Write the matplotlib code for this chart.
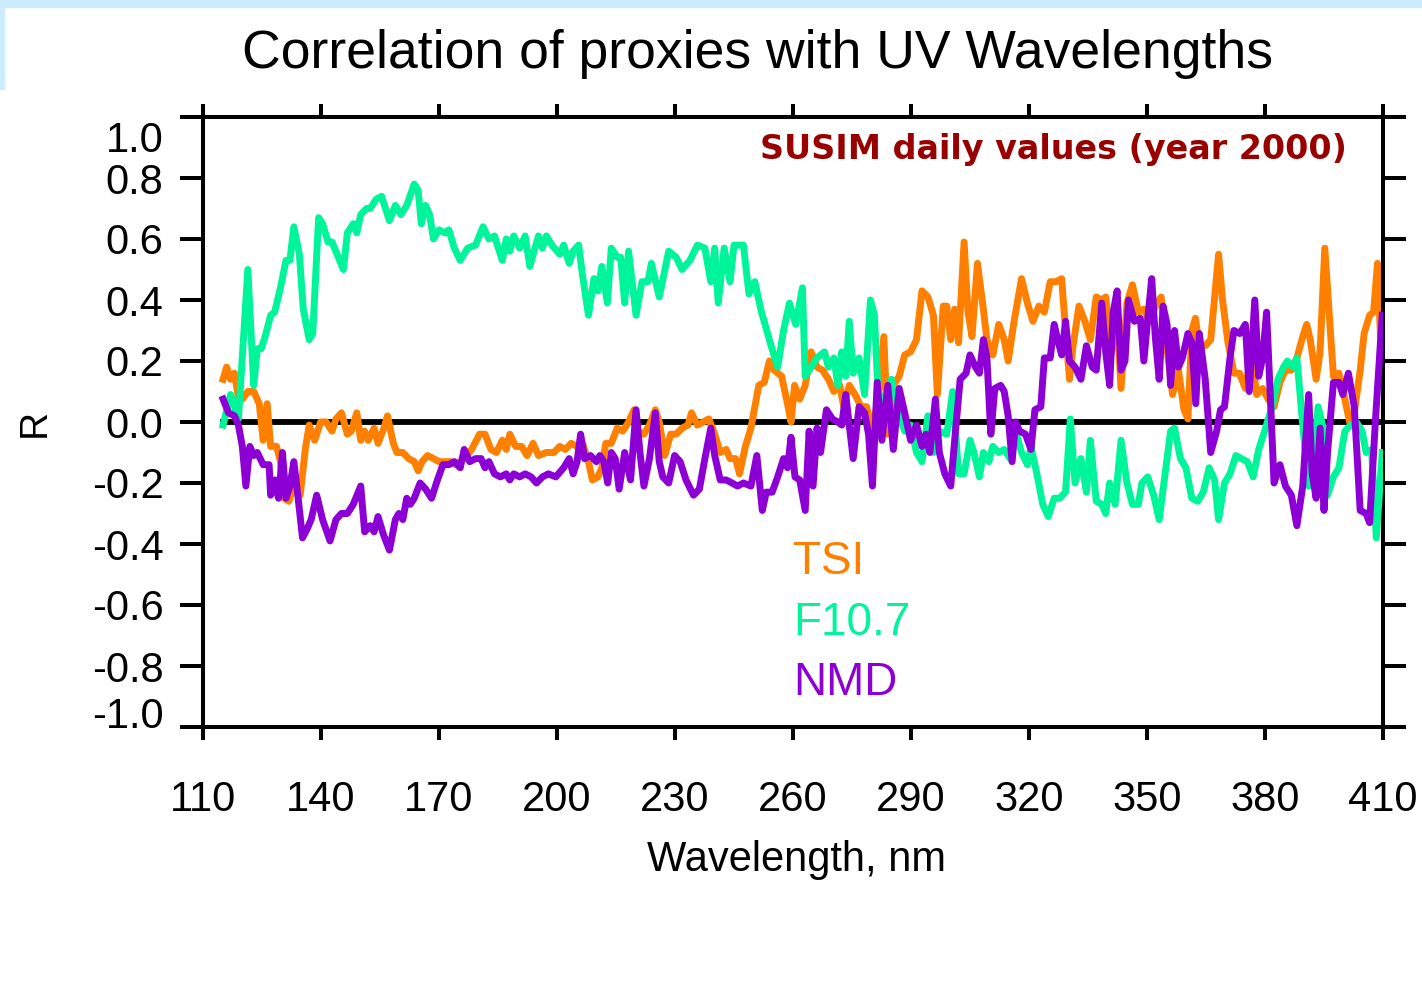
import numpy as np
import matplotlib
matplotlib.use('Agg')
import matplotlib.pyplot as plt
import matplotlib.transforms as mtransforms
from matplotlib.patches import Rectangle

plt.rcParams['font.family'] = ['Liberation Sans', 'DejaVu Sans']
plt.rcParams['axes.unicode_minus'] = False

## Data
tsi_wl = [115.1, 116.0, 117.0, 118.0, 119.0, 120.0, 121.4, 122.9, 124.3, 125.3, 126.3, 127.2, 128.7,
          129.7, 130.6, 131.8, 133.1, 134.7, 136.0, 137.0, 138.4, 139.9, 141.3, 142.8, 143.8, 145.2,
          146.7, 147.7, 149.1, 150.1, 151.1, 152.0, 153.5, 154.5, 156.0, 156.9, 158.4, 159.3, 160.8,
          162.3, 163.7, 164.7, 165.7, 167.1, 168.6, 170.0, 171.5, 173.0, 174.4, 176.4, 178.3, 180.3,
          181.7, 183.2, 184.6, 186.1, 187.1, 188.0, 189.5, 191.0, 192.4, 193.9, 195.3, 197.3, 199.2,
          200.7, 202.1, 203.6, 205.1, 206.5, 208.0, 209.0, 210.4, 211.4, 212.4, 213.8, 215.3, 216.7,
          218.2, 219.6, 220.6, 222.1, 223.5, 225.0, 226.0, 227.4, 228.9, 230.3, 231.8, 233.3, 234.2,
          235.7, 237.2, 238.6, 240.1, 241.5, 243.0, 244.0, 245.4, 246.4, 247.9, 249.3, 251.3, 252.7,
          254.0, 255.2, 257.1, 258.6, 259.5, 260.4, 261.7, 263.1, 264.6, 266.1, 267.5, 269.0, 270.4,
          271.9, 272.9, 274.3, 275.8, 277.3, 278.7, 280.2, 281.6, 283.1, 284.1, 285.5, 287.0, 288.4,
          289.9, 291.4, 292.8, 294.3, 295.7, 296.7, 298.2, 299.1, 300.1, 301.1, 302.1, 303.5, 304.5,
          305.5, 306.9, 308.4, 309.3, 310.8, 312.3, 313.7, 314.7, 316.2, 318.1, 319.6, 321.0, 322.5,
          323.9, 325.4, 326.9, 328.3, 329.3, 330.3, 331.2, 332.7, 334.2, 335.6, 337.1, 338.5, 339.5,
          341.0, 342.4, 343.4, 344.9, 346.3, 347.8, 349.2, 350.7, 352.1, 353.6, 355.1, 356.5, 358.0,
          359.4, 360.4, 361.4, 362.3, 363.3, 364.8, 366.2, 367.2, 368.2, 369.2, 370.6, 372.1, 373.5,
          375.0, 376.5, 377.9, 379.4, 380.8, 382.3, 383.8, 385.2, 386.7, 388.1, 389.6, 390.6, 391.5,
          393.0, 394.0, 395.2, 396.4, 397.4, 398.8, 400.3, 401.5, 402.7, 404.2, 405.2, 406.6, 407.6,
          408.6, 409.8]
tsi_r = [0.14, 0.18, 0.14, 0.16, 0.08, 0.075, 0.10, 0.10, 0.06, -0.06, 0.06, -0.08, -0.08,
         -0.13, -0.25, -0.26, -0.21, -0.24, -0.09, -0.01, -0.06, 0.00, 0.00, -0.03, 0.01, 0.03,
         -0.04, -0.03, 0.03, -0.06, -0.03, -0.06, -0.02, -0.07, -0.02, 0.02, -0.07, -0.10, -0.10,
         -0.12, -0.13, -0.16, -0.13, -0.11, -0.12, -0.13, -0.13, -0.13, -0.14, -0.12, -0.09, -0.04,
         -0.04, -0.09, -0.10, -0.06, -0.09, -0.04, -0.08, -0.08, -0.11, -0.07, -0.11, -0.10, -0.10,
         -0.08, -0.09, -0.07, -0.08, -0.07, -0.13, -0.19, -0.18, -0.15, -0.07, -0.07, -0.02, -0.03,
         0.00, 0.04, -0.03, -0.04, -0.01, 0.04, 0.00, -0.11, -0.04, -0.04, -0.02, -0.01, 0.03,
         -0.01, 0.00, 0.01, -0.04, -0.10, -0.09, -0.12, -0.12, -0.17, -0.08, -0.02, 0.12, 0.13,
         0.20, 0.17, 0.15, 0.06, 0.00, 0.12, 0.075, 0.12, 0.23, 0.18, 0.17, 0.14, 0.10,
         0.12, 0.05, 0.12, 0.09, 0.05, 0.05, -0.03, 0.075, 0.28, -0.04, 0.12, 0.15, 0.22,
         0.23, 0.27, 0.43, 0.41, 0.35, 0.09, 0.38, 0.38, 0.27, 0.37, 0.26, 0.59, 0.36,
         0.28, 0.52, 0.37, 0.27, 0.22, 0.32, 0.27, 0.20, 0.33, 0.47, 0.39, 0.33, 0.38,
         0.36, 0.46, 0.46, 0.47, 0.30, 0.14, 0.25, 0.38, 0.33, 0.27, 0.41, 0.40, 0.41,
         0.23, 0.34, 0.11, 0.39, 0.45, 0.36, 0.37, 0.33, 0.38, 0.41, 0.24, 0.09, 0.17,
         0.04, 0.01, 0.30, 0.34, 0.25, 0.25, 0.27, 0.41, 0.55, 0.40, 0.26, 0.16, 0.16,
         0.11, 0.22, 0.09, 0.11, 0.075, 0.05, 0.13, 0.17, 0.17, 0.21, 0.28, 0.32, 0.27,
         0.14, 0.23, 0.57, 0.34, 0.15, 0.16, 0.075, 0.00, 0.03, 0.17, 0.29, 0.35, 0.36,
         0.52, 0.14]

f107_wl = [115.1, 117.0, 119.0, 121.4, 122.9, 123.8, 124.8, 125.8, 127.2, 128.2, 129.7, 131.1, 132.1,
           133.1, 134.5, 135.5, 137.0, 137.9, 139.4, 140.4, 141.8, 142.8, 145.7, 146.7, 148.2, 149.1,
           150.1, 151.6, 152.5, 154.0, 155.4, 157.4, 158.9, 160.3, 161.8, 163.7, 164.7, 165.5, 166.6,
           167.6, 168.6, 170.0, 171.5, 172.5, 173.9, 175.4, 177.3, 179.3, 181.2, 182.7, 184.1, 186.1,
           187.1, 188.0, 189.0, 190.5, 191.9, 193.1, 194.4, 195.3, 196.3, 197.3, 198.7, 200.7, 201.7,
           203.1, 204.1, 205.5, 206.5, 208.0, 209.4, 210.4, 211.4, 212.8, 213.8, 215.3, 216.2, 217.2,
           218.2, 220.1, 221.6, 223.1, 224.0, 226.0, 228.4, 230.3, 231.8, 233.8, 235.7, 237.6, 239.1,
           240.1, 241.0, 242.5, 244.0, 245.0, 245.9, 247.4, 248.8, 250.3, 251.8, 254.2, 256.1, 257.6,
           259.1, 260.7, 262.4, 263.1, 264.1, 266.1, 268.0, 269.0, 270.4, 271.4, 272.4, 273.4, 274.3,
           275.3, 276.8, 278.2, 279.7, 280.7, 281.6, 283.6, 285.0, 287.0, 288.4, 289.9, 291.4, 292.8,
           294.3, 295.7, 297.2, 299.1, 300.6, 302.1, 303.5, 305.0, 306.0, 307.4, 308.4, 309.8, 310.8,
           312.3, 313.7, 315.2, 316.6, 318.1, 319.6, 320.5, 322.0, 323.5, 324.9, 326.4, 327.8, 329.3,
           330.5, 331.7, 333.2, 334.6, 335.6, 337.1, 338.5, 339.5, 340.5, 341.9, 343.4, 344.9, 346.3,
           347.8, 348.7, 350.2, 351.7, 353.1, 354.6, 356.0, 357.0, 358.5, 359.9, 361.4, 362.9, 364.3,
           365.8, 367.2, 368.2, 369.7, 371.1, 372.6, 374.0, 375.5, 377.0, 378.4, 379.9, 381.8, 383.3,
           384.7, 385.7, 387.2, 388.1, 389.6, 391.1, 392.0, 393.5, 395.0, 395.9, 397.4, 398.8, 400.3,
           401.8, 403.2, 404.7, 405.7, 407.1, 408.3, 409.8]
f107_r = [-0.01, 0.09, 0.01, 0.50, 0.12, 0.24, 0.24, 0.28, 0.35, 0.36, 0.44, 0.53, 0.53,
          0.64, 0.55, 0.37, 0.27, 0.29, 0.67, 0.65, 0.59, 0.59, 0.50, 0.62, 0.65, 0.62,
          0.68, 0.70, 0.70, 0.73, 0.74, 0.66, 0.71, 0.68, 0.71, 0.78, 0.76, 0.65, 0.71,
          0.68, 0.60, 0.63, 0.62, 0.63, 0.57, 0.53, 0.57, 0.58, 0.64, 0.60, 0.61, 0.53,
          0.60, 0.56, 0.61, 0.57, 0.61, 0.51, 0.57, 0.61, 0.57, 0.61, 0.58, 0.55, 0.58,
          0.52, 0.56, 0.58, 0.48, 0.35, 0.47, 0.43, 0.51, 0.39, 0.57, 0.54, 0.54, 0.39,
          0.56, 0.35, 0.46, 0.46, 0.52, 0.41, 0.56, 0.54, 0.50, 0.53, 0.58, 0.57, 0.46,
          0.57, 0.39, 0.57, 0.46, 0.58, 0.58, 0.58, 0.42, 0.46, 0.37, 0.26, 0.18, 0.30,
          0.39, 0.32, 0.44, 0.15, 0.17, 0.21, 0.23, 0.18, 0.21, 0.12, 0.23, 0.15, 0.33,
          0.16, 0.21, 0.09, 0.40, 0.35, 0.10, 0.05, 0.14, 0.02, -0.03, -0.01, -0.10, -0.13,
          0.02, -0.10, -0.03, -0.04, 0.10, -0.17, -0.17, -0.06, -0.10, -0.18, -0.10, -0.13, -0.08,
          -0.10, -0.09, -0.12, -0.03, -0.10, -0.14, -0.08, -0.17, -0.27, -0.31, -0.25, -0.25, -0.23,
          0.01, -0.20, -0.12, -0.23, -0.06, -0.26, -0.27, -0.30, -0.20, -0.27, -0.06, -0.20, -0.27,
          -0.27, -0.20, -0.18, -0.24, -0.32, -0.17, -0.03, -0.02, -0.12, -0.15, -0.25, -0.26, -0.23,
          -0.15, -0.19, -0.32, -0.20, -0.17, -0.11, -0.12, -0.13, -0.18, -0.09, -0.03, 0.05, 0.14,
          0.18, 0.20, 0.18, 0.21, -0.01, -0.21, -0.17, 0.05, -0.03, -0.24, -0.18, -0.15, -0.03,
          -0.01, 0.00, -0.03, -0.10, -0.09, -0.38, -0.10]

nmd_wl = [115.1, 116.5, 118.0, 119.0, 120.0, 120.9, 121.9, 122.9, 123.8, 125.3, 126.8, 127.2, 128.2,
          129.2, 130.2, 131.1, 132.1, 133.1, 134.1, 135.3, 136.5, 137.5, 138.9, 140.4, 142.3, 143.8,
          145.2, 146.7, 148.2, 150.1, 151.1, 152.5, 153.5, 154.5, 155.9, 157.4, 158.9, 159.8, 160.8,
          161.8, 162.7, 163.7, 165.2, 166.6, 168.1, 169.6, 171.0, 172.5, 173.9, 175.4, 176.4, 177.8,
          179.3, 180.7, 181.7, 182.7, 184.1, 185.6, 187.1, 188.0, 189.0, 190.5, 191.9, 193.4, 194.8,
          196.3, 197.8, 199.7, 201.7, 203.1, 204.1, 205.1, 206.0, 207.0, 208.5, 210.0, 210.9, 211.9,
          212.9, 213.8, 214.8, 215.8, 217.2, 218.7, 220.1, 221.1, 222.1, 223.5, 225.0, 226.0, 226.9,
          228.4, 229.9, 231.3, 232.8, 234.7, 236.2, 237.6, 239.1, 240.1, 241.5, 243.0, 244.5, 245.9,
          247.4, 249.3, 250.8, 252.2, 253.2, 254.7, 256.1, 257.6, 258.6, 259.5, 260.5, 261.7, 263.1,
          264.1, 265.1, 266.1, 267.0, 268.5, 270.0, 271.4, 272.4, 273.4, 274.3, 275.3, 276.8, 278.2,
          279.2, 280.2, 281.4, 282.6, 284.1, 285.5, 287.0, 288.4, 289.9, 291.4, 292.8, 293.8, 294.8,
          296.2, 297.2, 298.6, 300.1, 301.1, 302.5, 304.0, 305.0, 306.4, 307.4, 308.4, 309.3, 310.3,
          311.3, 312.8, 313.7, 314.7, 315.7, 316.6, 317.6, 319.1, 320.5, 321.5, 323.0, 323.9, 325.4,
          326.4, 327.3, 328.3, 329.3, 330.3, 331.7, 333.2, 334.6, 336.1, 337.1, 338.5, 339.5, 340.5,
          341.4, 342.4, 343.4, 344.4, 345.3, 346.8, 348.3, 349.2, 350.2, 351.2, 352.1, 353.1, 354.1,
          355.1, 356.0, 357.0, 358.0, 359.0, 360.4, 361.4, 362.4, 363.3, 364.8, 366.2, 367.7, 368.7,
          369.7, 371.1, 372.1, 373.6, 375.0, 376.0, 377.4, 378.4, 379.4, 380.4, 381.3, 382.3, 383.8,
          385.2, 386.7, 388.1, 389.6, 391.1, 392.0, 393.0, 394.0, 395.0, 395.9, 397.4, 398.8, 399.8,
          401.2, 402.7, 404.2, 405.7, 406.6, 408.1, 409.8]
nmd_r = [0.075, 0.03, 0.02, -0.01, -0.08, -0.21, -0.08, -0.11, -0.10, -0.14, -0.14, -0.24, -0.19,
         -0.25, -0.10, -0.25, -0.21, -0.13, -0.24, -0.38, -0.35, -0.32, -0.24, -0.32, -0.39, -0.32,
         -0.30, -0.30, -0.27, -0.21, -0.36, -0.34, -0.36, -0.31, -0.37, -0.42, -0.32, -0.30, -0.32,
         -0.25, -0.27, -0.25, -0.20, -0.22, -0.25, -0.19, -0.14, -0.14, -0.13, -0.15, -0.09, -0.13,
         -0.12, -0.12, -0.15, -0.13, -0.17, -0.18, -0.17, -0.19, -0.17, -0.18, -0.17, -0.18, -0.20,
         -0.18, -0.17, -0.18, -0.15, -0.12, -0.17, -0.13, -0.04, -0.12, -0.11, -0.13, -0.11, -0.13,
         -0.20, -0.10, -0.12, -0.22, -0.10, -0.19, 0.04, -0.10, -0.21, -0.12, 0.03, -0.13, -0.18,
         -0.20, -0.11, -0.13, -0.19, -0.24, -0.22, -0.12, -0.02, -0.11, -0.19, -0.19, -0.20, -0.21,
         -0.20, -0.21, -0.11, -0.29, -0.23, -0.23, -0.18, -0.12, -0.15, -0.05, -0.18, -0.19, -0.29,
         -0.03, -0.21, -0.02, -0.10, 0.04, 0.01, 0.00, -0.01, 0.09, -0.01, -0.12, 0.05, 0.03,
         -0.04, -0.21, 0.13, -0.06, 0.12, -0.09, 0.11, 0.03, -0.06, -0.01, -0.08, -0.04, -0.10,
         0.075, -0.10, -0.17, -0.21, -0.06, 0.14, 0.16, 0.22, 0.18, 0.16, 0.27, 0.21, -0.04,
         0.11, 0.12, 0.10, 0.02, -0.13, 0.00, -0.03, -0.04, -0.09, 0.04, 0.05, 0.21, 0.21,
         0.32, 0.27, 0.22, 0.33, 0.20, 0.18, 0.14, 0.25, 0.18, 0.17, 0.39, 0.23, 0.12,
         0.36, 0.43, 0.17, 0.20, 0.40, 0.33, 0.34, 0.20, 0.34, 0.47, 0.28, 0.14, 0.38,
         0.32, 0.12, 0.30, 0.18, 0.21, 0.29, 0.26, 0.06, 0.29, 0.14, -0.10, -0.03, 0.04,
         0.05, 0.21, 0.30, 0.29, 0.32, 0.10, 0.40, 0.15, 0.21, 0.36, 0.10, -0.20, -0.14,
         -0.21, -0.24, -0.34, -0.21, 0.09, -0.17, -0.25, -0.02, -0.29, -0.10, 0.13, 0.13, 0.09,
         0.16, 0.05, -0.29, -0.30, -0.33, 0.01, 0.35]

x_ticks = [110, 140, 170, 200, 230, 260, 290, 320, 350, 380, 410]
y_ticks = [1.0, 0.8, 0.6, 0.4, 0.2, 0.0, -0.2, -0.4, -0.6, -0.8, -1.0]
series_names = ['TSI', 'F10.7', 'NMD']
series_colors = ['#FF8000', '#00F59A', '#8C00D6']

## Figure
W, H = 1422, 989
fig = plt.figure(figsize=(W / 100, H / 100), dpi=100)
fig.patches.append(Rectangle((0, 1 - 7 / H), 1, 7 / H, transform=fig.transFigure,
                             color='#CCECFF', zorder=0))
fig.patches.append(Rectangle((0, 1 - 89 / H), 4 / W, 89 / H, transform=fig.transFigure,
                             color='#CCECFF', zorder=0))

ax = fig.add_axes([203 / W, 1 - 727 / H, 1180 / W, 610 / H])
ax.plot([115, 410], [0, 0], color='black', lw=4.2, zorder=1)
ax.plot(tsi_wl, tsi_r, color=series_colors[0], lw=5.0, zorder=2)
ax.plot(f107_wl, f107_r, color=series_colors[1], lw=5.0, zorder=3)
ax.plot(nmd_wl, nmd_r, color=series_colors[2], lw=5.0, zorder=4)

ax.set_xlim(110, 410)
ax.set_ylim(-1, 1)
ax.set_xticks(x_ticks)
ax.set_xticklabels([str(v) for v in x_ticks])
ax.set_yticks(y_ticks)
ax.set_yticklabels(['%.1f' % v for v in y_ticks])
for s in ax.spines.values():
    s.set_linewidth(2.9)
ax.tick_params(axis='x', direction='out', length=9.4, width=2.9, top=True,
               labelsize=30, pad=29)
ax.tick_params(axis='y', direction='out', length=16.5, width=2.9, right=True,
               labelsize=30, pad=12)

# the end labels of the y axis sit inside the frame
labels = ax.get_yticklabels()
for lab in labels:
    if lab.get_text() == '1.0':
        lab.set_transform(lab.get_transform() + mtransforms.ScaledTranslation(0, -0.19, fig.dpi_scale_trans))
    if lab.get_text() == '-1.0':
        lab.set_transform(lab.get_transform() + mtransforms.ScaledTranslation(0, 0.14, fig.dpi_scale_trans))

ax.set_xlabel('Wavelength, nm', fontsize=30)
ax.xaxis.set_label_coords((797 - 203) / 1180, (727 - 860) / 610)
ax.xaxis.label.set_va('center')
fig.text(35 / W, 1 - 423 / H, 'R', rotation=90, fontsize=28, ha='center', va='center')

fig.text(757 / W, 1 - 54 / H, 'Correlation of proxies with UV Wavelengths',
         fontsize=38.5, ha='center', va='center')
ax.text((1347 - 203) / 1180, (727 - 150) / 610, 'SUSIM daily values (year 2000)',
        transform=ax.transAxes, fontsize=24, fontweight='bold', color='#990000',
        family='DejaVu Sans', ha='right', va='center')

for name, color, yv in zip(series_names, series_colors, [-0.46, -0.66, -0.857]):
    ax.text(260, yv, name, color=color, fontsize=33, ha='left', va='center')

fig.savefig('out.png', dpi=100)
